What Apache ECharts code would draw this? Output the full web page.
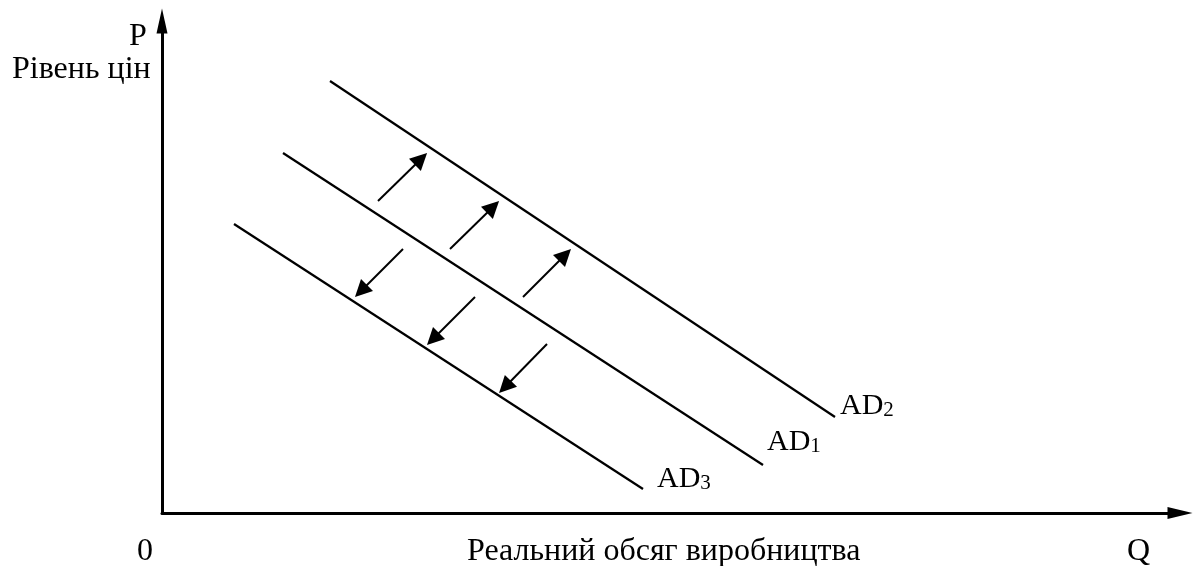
<!DOCTYPE html>
<html>
<head>
<meta charset="utf-8">
<script src="https://cdn.jsdelivr.net/npm/echarts@6/dist/echarts.min.js"></script>
<style>
  html, body { margin: 0; padding: 0; background: #fff; }
  #chart { width: 1193px; height: 566px; }
</style>
</head>
<body>
<div id="chart"></div>
<script>
// curves, in axis units (x to the right of the origin, y above it)
const ad2 = [[168, 432], [673, 96]];
const ad1 = [[121, 360], [601, 48]];
const ad3 = [[72, 289], [481, 24]];

// shift arrows: AD1 -> AD2 (up) and AD1 -> AD3 (down)
const arrowsUp = [
  [[216, 312], [259, 354]],
  [[288, 264], [331, 306]],
  [[361, 216], [403, 258]]
];
const arrowsDown = [
  [[241, 264], [199, 222]],
  [[313, 216], [271, 174]],
  [[385, 169], [343, 126]]
];

const curveNames = ['AD2', 'AD1', 'AD3'];
const FONT = 'Liberation Serif';
const TXT = '32px "' + FONT + '"';

const chart = echarts.init(document.getElementById('chart'));

function curve(name, data, offset) {
  return {
    type: 'line',
    name: name,
    data: data,
    symbol: 'none',
    silent: true,
    lineStyle: { color: '#000', width: 2.2 },
    endLabel: {
      show: true,
      offset: offset,
      formatter: '{a|AD}{s|' + name.slice(2) + '}',
      rich: {
        a: { fontFamily: FONT, fontSize: 30, color: '#000', verticalAlign: 'bottom' },
        s: { fontFamily: FONT, fontSize: 21, lineHeight: 16, color: '#000', verticalAlign: 'bottom' }
      }
    }
  };
}

const option = {
  animation: false,
  backgroundColor: '#fff',
  grid: { left: 162, top: 21, width: 1018, height: 492 },
  xAxis: {
    type: 'value', min: 0, max: 1018,
    axisLine: { lineStyle: { color: '#000', width: 3 }, symbol: ['none', 'triangle'], symbolSize: [12, 25] },
    axisTick: { show: false }, axisLabel: { show: false }, splitLine: { show: false }
  },
  yAxis: {
    type: 'value', min: 0, max: 492,
    axisLine: { lineStyle: { color: '#000', width: 3 }, symbol: ['none', 'triangle'], symbolSize: [11, 25] },
    axisTick: { show: false }, axisLabel: { show: false }, splitLine: { show: false }
  },
  graphic: [
    { type: 'text', left: 129, top: 21, style: { text: 'P', font: TXT, fill: '#000' } },
    { type: 'text', left: 12, top: 54, style: { text: 'Рівень цін', font: TXT, fill: '#000' } },
    { type: 'text', left: 137, top: 536, style: { text: '0', font: TXT, fill: '#000' } },
    { type: 'text', left: 467, top: 536, style: { text: 'Реальний обсяг виробництва', font: TXT, fill: '#000' } },
    { type: 'text', left: 1127, top: 536, style: { text: 'Q', font: TXT, fill: '#000' } }
  ],
  series: [
    curve(curveNames[0], ad2, [-3, -11]),
    curve(curveNames[1], ad1, [-4, -23]),
    curve(curveNames[2], ad3, [6, -10]),
    {
      type: 'lines',
      coordinateSystem: 'cartesian2d',
      silent: true,
      symbol: ['none', 'triangle'],
      symbolSize: [13, 17],
      lineStyle: { color: '#000', width: 2, opacity: 1 },
      data: arrowsUp.concat(arrowsDown).map(function (c) { return { coords: c }; })
    }
  ]
};

chart.setOption(option);
</script>
</body>
</html>
